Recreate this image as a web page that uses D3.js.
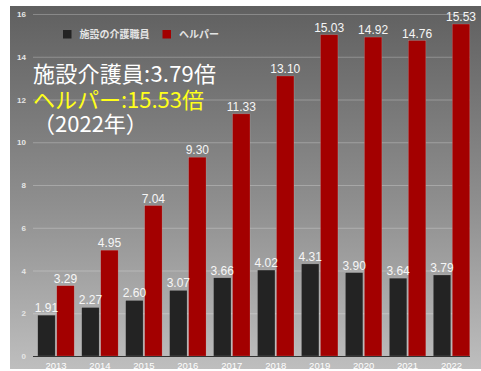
<!DOCTYPE html>
<html>
<head>
<meta charset="utf-8">
<script src="https://cdn.jsdelivr.net/npm/d3@7"></script>
<style>
  html, body { margin: 0; padding: 0; background: #ffffff; }
  svg { display: block; }
</style>
</head>
<body>
<svg id="chart" width="481" height="371"></svg>
<script>
// Job-opening ratio by year: care facility staff vs. home helpers
const years = ["2013", "2014", "2015", "2016", "2017", "2018", "2019", "2020", "2021", "2022"];
const facilityStaff = [1.91, 2.27, 2.60, 3.07, 3.66, 4.02, 4.31, 3.90, 3.64, 3.79];
const helpers = [3.29, 4.95, 7.04, 9.30, 11.33, 13.10, 15.03, 14.92, 14.76, 15.53];
const seriesNames = ["施設の介護職員", "ヘルパー"];
const seriesColors = ["#232323", "#a30000"];
const yTicks = [0, 2, 4, 6, 8, 10, 12, 14, 16];
const noteLines = ["施設介護員:3.79倍", "ヘルパー:15.53倍", "（2022年）"];
const noteColors = ["#ffffff", "#ffff1a", "#ffffff"];

const svg = d3.select("#chart");
const W = 481, H = 371;
const panel = { x: 10, y: 6, w: W - 10, h: 363 };
const plot = { left: 34, right: 473.5, top: 14, bottom: 356 };

// Background panel with a dark-to-light vertical gradient
const defs = svg.append("defs");
const grad = defs.append("linearGradient")
  .attr("id", "bg").attr("x1", 0).attr("y1", 0).attr("x2", 0).attr("y2", 1);
grad.append("stop").attr("offset", "0%").attr("stop-color", "#606060");
grad.append("stop").attr("offset", "55%").attr("stop-color", "#8f8f8f");
grad.append("stop").attr("offset", "100%").attr("stop-color", "#bebebe");
svg.append("rect")
  .attr("x", panel.x).attr("y", panel.y)
  .attr("width", panel.w).attr("height", panel.h)
  .attr("fill", "url(#bg)");

// Scales
const x0 = d3.scaleBand().domain(years)
  .range([plot.left, plot.right]).paddingInner(0.17).paddingOuter(0.085);
const x1 = d3.scaleBand().domain([0, 1])
  .range([0, x0.bandwidth()]).paddingInner(0.08);
const y = d3.scaleLinear().domain([0, 16]).range([plot.bottom, plot.top]);

// Gridlines and y tick labels
const yAxis = d3.axisLeft(y).tickValues(yTicks)
  .tickSize(-(470 - 33)).tickPadding(7).tickFormat(d3.format("d"));
const gy = svg.append("g").attr("transform", "translate(33,0)").call(yAxis);
gy.select(".domain").remove();
gy.selectAll(".tick line")
  .attr("stroke", "#ffffff").attr("stroke-opacity", 0.25).attr("stroke-width", 1);
gy.selectAll(".tick text")
  .attr("fill", "#e6e6e6")
  .style("font", "bold 8px 'Liberation Sans', Arial, sans-serif");

// Bars
const rows = years.map((yr, i) => ({ year: yr, values: [facilityStaff[i], helpers[i]] }));
const groups = svg.append("g").selectAll("g").data(rows).join("g")
  .attr("transform", d => `translate(${x0(d.year)},0)`);

groups.selectAll("rect").data(d => d.values.map((v, k) => ({ v, k })))
  .join("rect")
  .attr("x", d => x1(d.k))
  .attr("y", d => y(d.v))
  .attr("width", x1.bandwidth())
  .attr("height", d => y(0) - y(d.v))
  .attr("fill", d => seriesColors[d.k])
  .attr("stroke", "#ffffff").attr("stroke-opacity", 0.25).attr("stroke-width", 0.6);

// Value labels above bars
groups.selectAll("text.val").data(d => d.values.map((v, k) => ({ v, k })))
  .join("text").attr("class", "val")
  .attr("x", d => x1(d.k) + x1.bandwidth() / 2)
  .attr("y", d => y(d.v) - 3)
  .attr("text-anchor", "middle")
  .attr("fill", "#f6f6f6")
  .style("font", "12px 'Liberation Sans', Arial, sans-serif")
  .text(d => d.v.toFixed(2));

// X axis baseline and year labels
const xAxis = d3.axisBottom(x0).tickSize(0).tickPadding(6);
const gx = svg.append("g").attr("transform", `translate(0,${plot.bottom})`).call(xAxis);
gx.select(".domain").attr("d", `M33,0.5H470`).attr("stroke", "#333333").attr("stroke-width", 1.2);
gx.selectAll(".tick text")
  .attr("fill", "#ffffff")
  .style("font", "9.5px 'Liberation Sans', Arial, sans-serif");

// Legend
const legend = svg.append("g").attr("transform", "translate(63,30)");
const legendX = [0, 99.5];
seriesNames.forEach((name, k) => {
  const g = legend.append("g").attr("transform", `translate(${legendX[k]},0)`);
  g.append("rect").attr("width", 8.5).attr("height", 8.5).attr("fill", seriesColors[k]);
  g.append("text").attr("x", 16.5).attr("y", 8)
    .attr("fill", "#e4e4e4")
    .style("font", "bold 10px 'Noto Sans CJK JP', sans-serif")
    .text(name);
});

// Headline note: one text block, one line per tspan
const noteY = [81.5, 108, 132];
const noteWidth = [183, 171, null];
const note = svg.append("text")
  .style("font", "22px 'Noto Sans CJK JP', sans-serif");
note.selectAll("tspan").data(noteLines).join("tspan")
  .attr("x", 33)
  .attr("y", (d, i) => noteY[i])
  .attr("fill", (d, i) => noteColors[i])
  .each(function (d, i) {
    if (noteWidth[i] !== null) {
      d3.select(this).attr("textLength", noteWidth[i]).attr("lengthAdjust", "spacing");
    }
  })
  .text(d => d);
</script>
</body>
</html>
